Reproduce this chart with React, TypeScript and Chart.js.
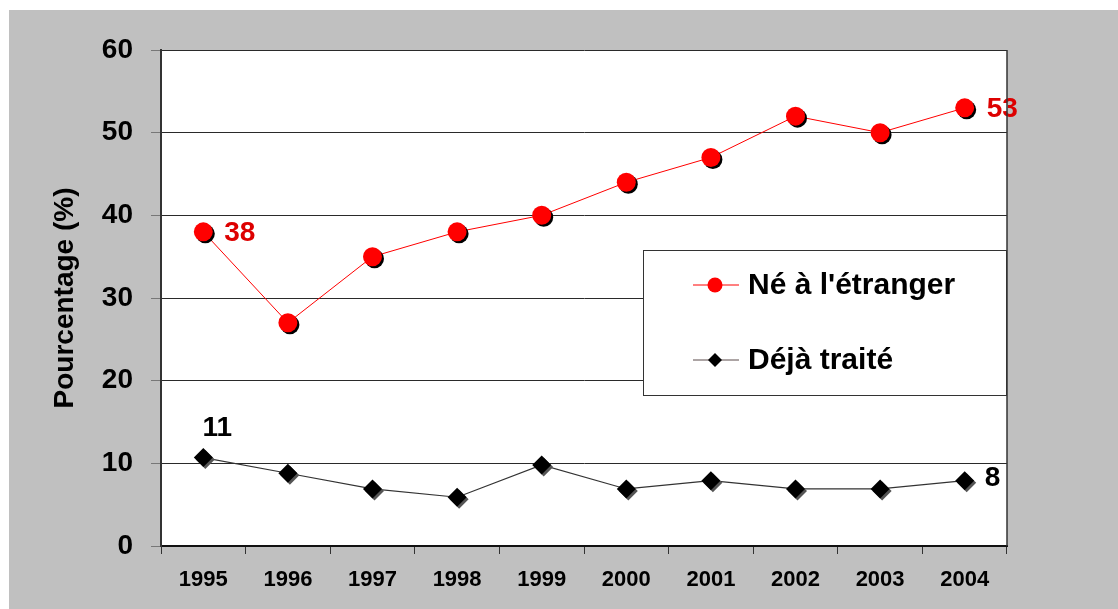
import React, { useEffect, useRef } from 'react';
import { Chart, registerables } from 'chart.js';

Chart.register(...registerables);

const years = ['1995', '1996', '1997', '1998', '1999', '2000', '2001', '2002', '2003', '2004'];
const neEtranger = [38, 27, 35, 38, 40, 44, 47, 52, 50, 53];
const dejaTraite = [10.7, 8.8, 6.9, 5.9, 9.8, 6.9, 7.9, 6.9, 6.9, 7.9];
const yTickValues = [0, 10, 20, 30, 40, 50, 60];
const seriesNames = ["Né à l'étranger", 'Déjà traité'];
const yTitle = 'Pourcentage (%)';

const FONT = '"Liberation Sans", Arial, sans-serif';
const RED = '#ff0000';
const LABEL_RED = '#dd0000';

const shadowPlugin = {
  id: 'markerShadow',
  beforeDatasetDraw(chart: any, args: any) {
    const ds = chart.data.datasets[args.index];
    const ctx = chart.ctx;
    ctx.save();
    if (ds.markerShadow) {
      ctx.shadowColor = ds.markerShadow;
      ctx.shadowOffsetX = 2;
      ctx.shadowOffsetY = 2;
      ctx.shadowBlur = 0;
    }
  },
  afterDatasetDraw(chart: any) {
    chart.ctx.restore();
  },
};

const framePlugin = {
  id: 'frame',
  beforeDraw(chart: any) {
    const { ctx, chartArea: a } = chart;
    ctx.save();
    ctx.fillStyle = '#ffffff';
    ctx.fillRect(a.left, a.top, a.right - a.left, a.bottom - a.top);
    ctx.restore();
  },
  afterDraw(chart: any) {
    const { ctx, chartArea: a } = chart;
    ctx.save();
    // right border of plot area
    ctx.strokeStyle = '#333333';
    ctx.lineWidth = 1.5;
    ctx.beginPath();
    ctx.moveTo(a.right, a.top);
    ctx.lineTo(a.right, a.bottom);
    ctx.stroke();

    // legend box
    const bx = a.left + 482;
    const by = a.top + 200;
    const bw = 363;
    const bh = 145;
    ctx.fillStyle = '#ffffff';
    ctx.fillRect(bx, by, bw, bh);
    ctx.strokeStyle = '#333333';
    ctx.lineWidth = 1;
    ctx.strokeRect(bx + 0.5, by + 0.5, bw, bh);

    const rows = [
      { name: seriesNames[0], y: by + 35, color: RED, style: 'circle', line: RED },
      { name: seriesNames[1], y: by + 110, color: '#000000', style: 'diamond', line: '#5a4a4a' },
    ];
    rows.forEach((r) => {
      const lx0 = bx + 50;
      const lx1 = bx + 96;
      const mx = bx + 72;
      ctx.strokeStyle = r.line;
      ctx.lineWidth = 1;
      ctx.beginPath();
      ctx.moveTo(lx0, r.y);
      ctx.lineTo(lx1, r.y);
      ctx.stroke();
      ctx.fillStyle = r.color;
      ctx.beginPath();
      if (r.style === 'circle') {
        ctx.arc(mx, r.y, 7.5, 0, Math.PI * 2);
      } else {
        const s = 7;
        ctx.moveTo(mx - s, r.y);
        ctx.lineTo(mx, r.y - s);
        ctx.lineTo(mx + s, r.y);
        ctx.lineTo(mx, r.y + s);
        ctx.closePath();
      }
      ctx.fill();
      ctx.fillStyle = '#000000';
      ctx.font = `bold 30px ${FONT}`;
      ctx.textAlign = 'left';
      ctx.textBaseline = 'middle';
      ctx.fillText(r.name, bx + 105, r.y + 1);
    });
    ctx.restore();
  },
};

const labelPlugin = {
  id: 'pointLabels',
  afterDatasetsDraw(chart: any) {
    const { ctx } = chart;
    const xs = chart.scales.x;
    const ys = chart.scales.y;
    const last = years.length - 1;
    const items = [
      { v: neEtranger[0], i: 0, dx: 21, dy: 1, align: 'left', color: LABEL_RED },
      { v: neEtranger[last], i: last, dx: 22, dy: 1, align: 'left', color: LABEL_RED },
      { v: dejaTraite[0], i: 0, dx: 14, dy: -29, align: 'center', color: '#000000' },
      { v: dejaTraite[last], i: last, dx: 20, dy: -2, align: 'left', color: '#000000' },
    ];
    ctx.save();
    ctx.font = `bold 28px ${FONT}`;
    ctx.textBaseline = 'middle';
    items.forEach((it) => {
      const px = xs.getPixelForValue(it.i);
      const py = ys.getPixelForValue(it.v);
      ctx.fillStyle = it.color;
      ctx.textAlign = it.align;
      ctx.fillText(String(Math.round(it.v)), px + it.dx, py + it.dy);
    });
    ctx.restore();
  },
};

export default function App() {
  const canvasRef = useRef<HTMLCanvasElement | null>(null);

  useEffect(() => {
    if (!canvasRef.current) return;
    const chart = new Chart(canvasRef.current, {
      type: 'line',
      data: {
        labels: years,
        datasets: [
          {
            label: seriesNames[0] + ' markers',
            data: neEtranger,
            showLine: false,
            pointStyle: 'circle',
            pointRadius: 9.5,
            pointBackgroundColor: RED,
            pointBorderColor: RED,
            pointBorderWidth: 0,
            markerShadow: '#000000',
            order: 0,
            clip: false,
          } as any,
          {
            label: seriesNames[1] + ' markers',
            data: dejaTraite,
            showLine: false,
            pointStyle: 'rectRot',
            pointRadius: 9.5,
            pointBackgroundColor: '#000000',
            pointBorderColor: '#000000',
            pointBorderWidth: 0,
            markerShadow: '#555555',
            order: 0,
            clip: false,
          } as any,
          {
            label: seriesNames[0],
            data: neEtranger,
            borderColor: RED,
            borderWidth: 1,
            pointRadius: 0,
            tension: 0,
            fill: false,
            order: 1,
          },
          {
            label: seriesNames[1],
            data: dejaTraite,
            borderColor: '#333333',
            borderWidth: 1.2,
            pointRadius: 0,
            tension: 0,
            fill: false,
            order: 1,
          },
        ],
      },
      options: {
        responsive: false,
        animation: false,
        events: [],
        layout: { padding: { top: 40, right: 111, bottom: 0, left: 0 } },
        plugins: {
          legend: { display: false },
          tooltip: { enabled: false },
          title: { display: false },
        },
        scales: {
          x: {
            type: 'category',
            offset: true,
            grid: {
              display: true,
              drawOnChartArea: false,
              drawTicks: true,
              tickLength: 8,
              offset: true,
              color: '#333333',
              tickColor: '#333333',
            },
            border: { display: true, color: '#111111', width: 2 },
            ticks: {
              color: '#000000',
              font: { family: FONT, size: 22, weight: 'bold' },
              padding: 13,
              maxRotation: 0,
              autoSkip: false,
            },
            afterFit: (scale: any) => {
              scale.height = 63;
            },
          },
          y: {
            min: 0,
            max: 60,
            afterBuildTicks: (scale: any) => {
              scale.ticks = yTickValues.map((v) => ({ value: v }));
            },
            grid: {
              color: '#2a2a2a',
              lineWidth: 1,
              tickLength: 10,
              tickColor: '#777777',
            },
            border: { display: true, color: '#333333', width: 2 },
            ticks: {
              color: '#000000',
              font: { family: FONT, size: 28, weight: 'bold' },
              padding: 18,
            },
            title: {
              display: true,
              text: yTitle,
              color: '#000000',
              font: { family: FONT, size: 28, weight: 'bold' },
              padding: { top: 39, bottom: 0 },
            },
            afterFit: (scale: any) => {
              scale.width = 152;
            },
          },
        },
      },
      plugins: [framePlugin, shadowPlugin, labelPlugin],
    });
    return () => chart.destroy();
  }, []);

  return (
    <div
      style={{
        position: 'absolute',
        left: 9,
        top: 10,
        width: 1109,
        height: 599,
        background: '#c0c0c0',
      }}
    >
      <canvas ref={canvasRef} width={1109} height={599} style={{ display: 'block', width: 1109, height: 599 }} />
    </div>
  );
}
